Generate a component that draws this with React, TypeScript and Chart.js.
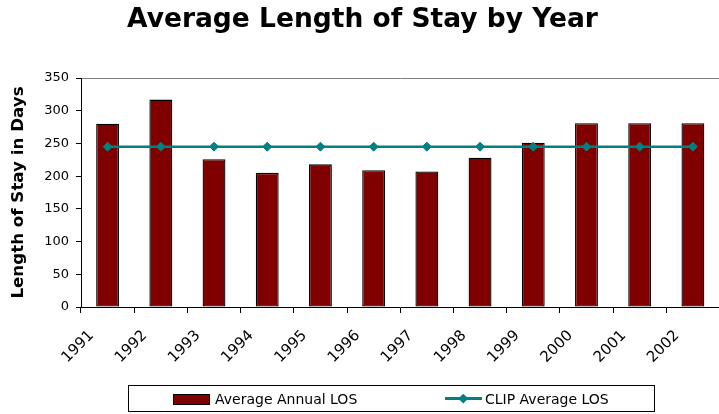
import React, { useEffect, useRef } from "react";
import { Chart, registerables } from "chart.js";

Chart.register(...registerables);

const years = ["1991", "1992", "1993", "1994", "1995", "1996", "1997", "1998", "1999", "2000", "2001", "2002"];
const averageAnnualLOS = [280, 317, 226, 205, 218, 209, 207, 228, 251, 281, 281, 281];
const clipAverageLOS = [245, 245, 245, 245, 245, 245, 245, 245, 245, 245, 245, 245];
const yMin = 0;
const yMax = 350;
const yStep = 50;

const titleText = "Average Length of Stay by Year";
const yTitleText = "Length of Stay in Days";
const barLabel = "Average Annual LOS";
const lineLabel = "CLIP Average LOS";

const BAR_COLOR = "#800000";
const LINE_COLOR = "#008080";
const FONT = "'DejaVu Sans', 'Liberation Sans', Arial, sans-serif";

const CANVAS_W = 725;
const CANVAS_H = 414;

export default function App() {
  const canvasRef = useRef<HTMLCanvasElement | null>(null);

  useEffect(() => {
    const canvas = canvasRef.current;
    if (!canvas) return;
    const chart = new Chart(canvas, {
      type: "bar",
      data: {
        labels: years,
        datasets: [
          {
            type: "line",
            label: lineLabel,
            data: clipAverageLOS,
            borderColor: LINE_COLOR,
            backgroundColor: LINE_COLOR,
            borderWidth: 2.5,
            pointStyle: "rectRot",
            pointRadius: 4.5,
            pointBackgroundColor: LINE_COLOR,
            pointBorderColor: LINE_COLOR,
            pointBorderWidth: 1,
            fill: false,
            tension: 0,
            order: 0,
          } as any,
          {
            type: "bar",
            label: barLabel,
            data: averageAnnualLOS,
            backgroundColor: BAR_COLOR,
            borderColor: "#000000",
            borderWidth: 1.3,
            borderSkipped: false,
            barPercentage: 0.43,
            categoryPercentage: 1,
            order: 1,
          } as any,
        ],
      },
      options: {
        responsive: false,
        devicePixelRatio: 1,
        animation: false,
        layout: { padding: { left: 0, right: 0, top: 0, bottom: 0 } },
        plugins: {
          legend: { display: false },
          tooltip: { enabled: false },
          title: {
            display: true,
            text: titleText,
            color: "#000000",
            font: { family: FONT, size: 26.5, weight: "bold" },
            padding: { top: 4, bottom: 42.2 },
          },
        },
        scales: {
          x: {
            grid: {
              display: true,
              offset: true,
              drawOnChartArea: false,
              drawTicks: true,
              tickLength: 6,
              color: "#000000",
              tickColor: "#000000",
            },
            border: { display: true, color: "#000000", width: 1 },
            ticks: {
              autoSkip: false,
              minRotation: 45,
              maxRotation: 45,
              labelOffset: -16,
              padding: 14,
              color: "#000000",
              font: { family: FONT, size: 15 },
            },
            afterFit: (scale: any) => {
              scale.height = 107;
            },
          },
          y: {
            min: yMin,
            max: yMax,
            grid: {
              display: true,
              drawOnChartArea: true,
              drawTicks: true,
              tickLength: 5,
              color: (ctx: any) => (ctx.tick && ctx.tick.value === yMax ? "#808080" : "rgba(0,0,0,0)"),
              tickColor: "#000000",
            },
            border: { display: true, color: "#000000", width: 1 },
            ticks: {
              stepSize: yStep,
              padding: 7,
              color: "#000000",
              font: { family: FONT, size: 13 },
            },
            title: {
              display: true,
              text: yTitleText,
              color: "#000000",
              font: { family: FONT, size: 16.7, weight: "bold" },
              padding: { top: 9, bottom: 0 },
            },
            afterFit: (scale: any) => {
              scale.width = 81;
            },
          },
        },
      } as any,
    });
    return () => chart.destroy();
  }, []);

  const textStyle: React.CSSProperties = {
    position: "absolute",
    top: 390,
    fontFamily: FONT,
    fontSize: 14,
    lineHeight: "18px",
    color: "#000",
    whiteSpace: "nowrap",
  };

  return (
    <div style={{ position: "fixed", left: 0, top: 0, width: 719, height: 414, background: "#fff", overflow: "hidden" }}>
      <canvas
        ref={canvasRef}
        width={CANVAS_W}
        height={CANVAS_H}
        style={{ position: "absolute", left: 0, top: 0, width: CANVAS_W, height: CANVAS_H }}
      />
      <div
        style={{
          position: "absolute",
          left: 128,
          top: 385,
          width: 525,
          height: 25,
          border: "1px solid #000",
          boxSizing: "content-box",
        }}
      />
      <div
        style={{
          position: "absolute",
          left: 173,
          top: 394,
          width: 35,
          height: 9,
          background: BAR_COLOR,
          border: "1px solid #000",
        }}
      />
      <span style={{ ...textStyle, left: 215 }}>{barLabel}</span>
      <div style={{ position: "absolute", left: 445, top: 397, width: 37, height: 2.5, background: LINE_COLOR }} />
      <div
        style={{
          position: "absolute",
          left: 460,
          top: 395,
          width: 6.5,
          height: 6.5,
          background: LINE_COLOR,
          transform: "rotate(45deg)",
        }}
      />
      <span style={{ ...textStyle, left: 485 }}>{lineLabel}</span>
    </div>
  );
}
